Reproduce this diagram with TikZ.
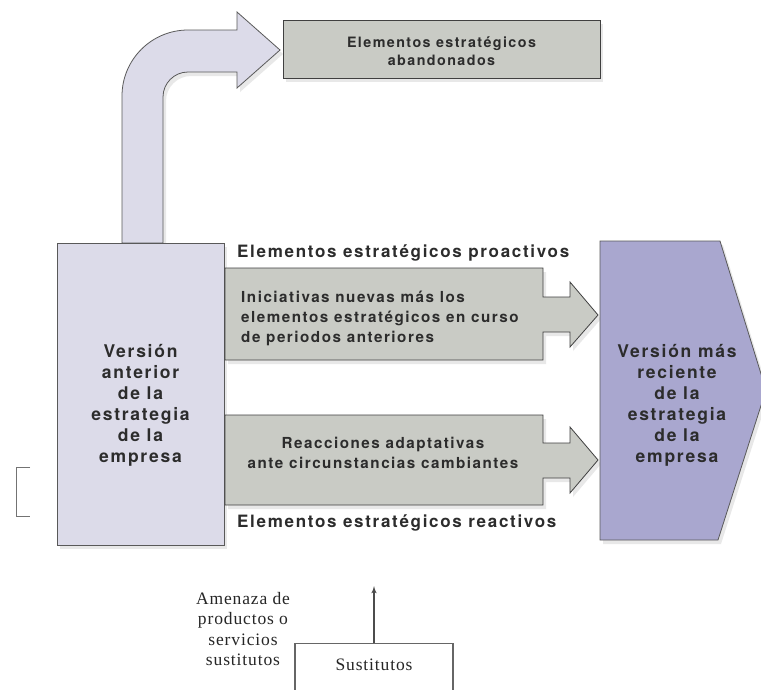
\documentclass[tikz,border=0pt]{standalone}
\usepackage{fontspec}
\usepackage{tikz}
\usetikzlibrary{shapes,shadows,arrows}
\newfontfamily\trk[LetterSpace=10]{TeX Gyre Heros}
\newfontfamily\srf[LetterSpace=5]{Liberation Serif}
\definecolor{lavlight}{HTML}{DCDBE9}
\definecolor{lavdark}{HTML}{A9A7CF}
\definecolor{greybox}{HTML}{C9CBC5}
\definecolor{inkdark}{HTML}{2C2C2C}
\tikzstyle{line} = [draw=black!70, line width=1.5pt, -latex']
\tikzstyle{shade_box} = [draw=black!65, line width=0.8pt, drop shadow={opacity=0.18, shadow xshift=3pt, shadow yshift=-4pt}]
\tikzstyle{old_box} = [rectangle, shade_box, fill=lavlight, minimum width=167pt, minimum height=302pt, inner sep=0pt]
\tikzstyle{drop_box} = [rectangle, shade_box, fill=greybox, draw=black!75, minimum width=317pt, minimum height=58pt, inner sep=0pt]
\tikzstyle{grey_arrow} = [shade_box, fill=greybox, draw=black!75]
\tikzstyle{big_txt} = [text=inkdark, align=center, inner sep=0pt, font=\trk\bfseries\fontsize{17.5}{21}\selectfont]
\tikzstyle{mid_txt} = [text=inkdark, inner sep=0pt, font=\trk\bfseries\fontsize{15.2}{20}\selectfont]
\tikzstyle{small_txt} = [text=inkdark, align=center, inner sep=0pt, font=\trk\bfseries\fontsize{14.3}{18}\selectfont]
\tikzstyle{side_txt} = [text=inkdark, anchor=west, inner sep=0pt, font=\trk\bfseries\fontsize{17}{20}\selectfont]
\tikzstyle{serif_txt} = [text=black!85, align=center, inner sep=0pt, font=\srf\fontsize{17.5}{20.5}\selectfont]
\tikzstyle{sust_box} = [rectangle, draw=black!60, line width=1.2pt, minimum width=158pt, minimum height=80pt, inner sep=0pt]

\begin{document}
\begin{tikzpicture}[x=1pt, y=-1pt]
			\useasboundingbox[fill=white] (0,0) rectangle (761,689);
			
			% bent arrow to the abandoned elements
			\draw [shade_box, fill=lavlight] (122,243) -- (122,96) arc [start angle=180, end angle=270, radius=66] -- (237,30) -- (237,12) -- (280,50) -- (237,88) -- (237,72) -- (188,72) arc [start angle=270, end angle=180, radius=25] -- (163,243) -- cycle;
			\node [drop_box] (drop) at (441.5,49) {};
			\node [small_txt] (drop_txt) at (441.5,51) {Elementos estratégicos\\abandonados};
			
			\node [old_box] (old) at (140.5,394) {};
			\node [big_txt] (old_txt) at (140.5,405) {Versión\\anterior\\de la\\estrategia\\de la\\empresa};
			
			% proactive and reactive arrows
			\draw [grey_arrow] (225,268) -- (543,268) -- (543,297) -- (570,297) -- (570,282) -- (598,315) -- (570,347) -- (570,332) -- (543,332) -- (543,360) -- (225,360) -- cycle;
			\draw [grey_arrow] (225,415) -- (543,415) -- (543,443) -- (570,443) -- (570,427) -- (598,460) -- (570,493) -- (570,478) -- (543,478) -- (543,505) -- (225,505) -- cycle;
			\node [mid_txt, anchor=west, align=left] (pro_txt) at (241,318) {Iniciativas nuevas más los\\elementos estratégicos en curso\\de periodos anteriores};
			\node [mid_txt, align=center] (re_txt) at (383,453) {Reacciones adaptativas\\ante circunstancias cambiantes};
			\node [side_txt] (pro) at (237,253) {Elementos estratégicos proactivos};
			\node [side_txt] (re) at (237,523) {Elementos estratégicos reactivos};
			
			\draw [shade_box, fill=lavdark] (600,241) -- (720,241) -- (766,390) -- (718,540) -- (600,540) -- cycle;
			\node [big_txt] (new_txt) at (677,405) {Versión más\\reciente\\de la\\estrategia\\de la\\empresa};
			
			\draw [draw=black!55, line width=1pt] (30,467) -- (16,467) -- (16,516) -- (30,516);
			
			% substitutes
			\node [sust_box, anchor=north] (sust) at (374,643) {};
			\node [serif_txt] (sust_txt) at (374,665) {Sustitutos};
			\node [serif_txt] (threat_txt) at (243,629) {Amenaza de\\productos o\\servicios\\sustitutos};
			\coordinate (threat) at (374,586);
			\path [line] (sust.north) to (threat);
		\end{tikzpicture}
\end{document}
